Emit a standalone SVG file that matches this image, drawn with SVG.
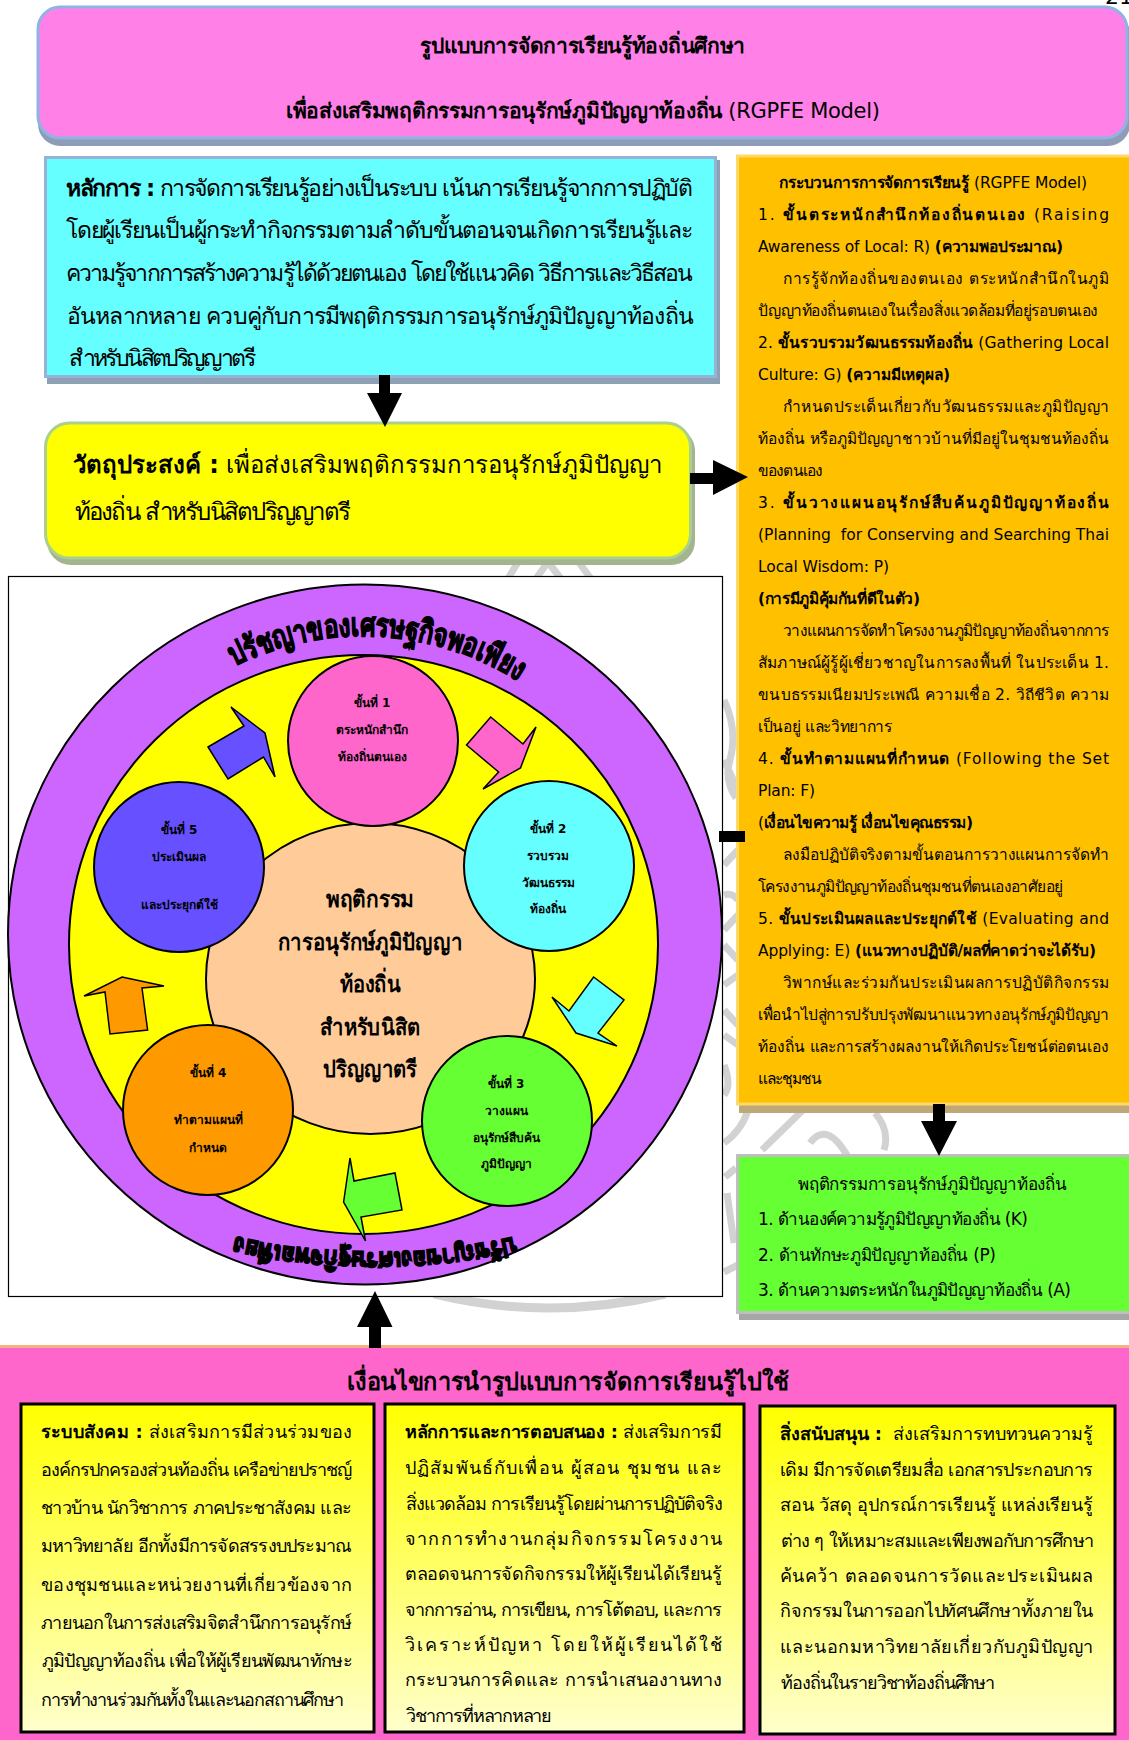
<svg xmlns="http://www.w3.org/2000/svg" width="1129" height="1740" viewBox="0 0 1129 1740">
<style>
text{font-family:"DejaVu Sans","Noto Sans","Liberation Sans",sans-serif;fill:#000}
.b{font-weight:bold}
.o{font-size:15.5px}
.c{font-size:23px}
.y{font-size:24px}
.h{font-size:21px}
.g{font-size:17px}
.p{font-size:18px}
.s{font-size:12px;font-weight:bold;text-anchor:middle}
.m{font-size:23px;font-weight:bold;text-anchor:middle}
.wm{fill:none;stroke:#d2d2d2;stroke-width:7}
.st{stroke:#000;stroke-width:2}
.ar{fill:#000;stroke:none}
.ba{stroke:#000;stroke-width:1.5}
.inner{fill:url(#yg);stroke:#000;stroke-width:3}
.curve{font-size:32px;font-weight:bold;stroke:#000;stroke-width:1.3}
.curve2{font-size:25px;font-weight:bold;stroke:#000;stroke-width:1.8}
</style>
<defs>
<linearGradient id="yg" x1="0" y1="0" x2="0" y2="1"><stop offset="0" stop-color="#ffff00"/><stop offset="1" stop-color="#ffffcc"/></linearGradient>
<path id="arcTop" d="M234 666A290 290 0 0 1 545 700"/>
<path id="arcBot" d="M515 1237A640 640 0 0 1 205 1229.500"/>
</defs>
<rect width="1129" height="1740" fill="#fff"/>
<g id="watermark" class="wm">
<path d="M522 556L507 580M548 562L535 580M548 562L562 580M574 556L592 580"/>
<path style="stroke-width:9" d="M434 1294Q548 1322 665 1294"/>
<path d="M724 700Q738 730 730 760Q724 780 736 798M724 760L738 790M724 865L738 850M724 895Q732 892 738 900M724 930L738 915M724 945L738 960M724 985L738 975M724 1010L738 1025M724 1035L738 1045M724 1065Q732 1085 724 1095M724 1143Q742 1130 748 1110M762 1150L806 1107M810 1143Q827 1120 848 1157M875 1113Q890 1130 884 1150M725 1177L736 1168M727 1193L734 1243M724 1272L738 1265"/>
</g>
<text x="1105" y="4" font-size="22" font-family="Liberation Serif">21</text>

<g id="frame"><rect x="8.500" y="576.500" width="714" height="720" fill="#fff" stroke="#000" stroke-width="1.200"/></g>

<g id="title">
<rect x="38" y="12" width="1092" height="134" rx="22" fill="#8e9cb8"/>
<rect x="38" y="7" width="1089" height="131" rx="22" fill="#ff80e6" stroke="#8db4e2" stroke-width="3"/>
<text class="h b" x="420" y="53" textLength="325">รูปแบบการจัดการเรียนรู้ท้องถิ่นศึกษา</text>
<text class="h" x="286" y="118" textLength="594"><tspan class="b">เพื่อส่งเสริมพฤติกรรมการอนุรักษ์ภูมิปัญญาท้องถิ่น</tspan> (RGPFE Model)</text>
</g>

<g id="principle">
<rect x="47" y="160" width="673" height="224" fill="#8ea0b4"/>
<rect x="45.500" y="157.500" width="670" height="219" fill="#66ffff" stroke="#95b3d7" stroke-width="3"/>
<text class="c" x="66" y="196" textLength="627"><tspan class="b">หลักการ :</tspan> การจัดการเรียนรู้อย่างเป็นระบบ เน้นการเรียนรู้จากการปฏิบัติ</text>
<text class="c" x="66" y="238" textLength="627">โดยผู้เรียนเป็นผู้กระทำกิจกรรมตามลำดับขั้นตอนจนเกิดการเรียนรู้และ</text>
<text class="c" x="66" y="281" textLength="627">ความรู้จากการสร้างความรู้ได้ด้วยตนเอง โดยใช้แนวคิด วิธีการและวิธีสอน</text>
<text class="c" x="66" y="324" textLength="627">อันหลากหลาย ควบคู่กับการมีพฤติกรรมการอนุรักษ์ภูมิปัญญาท้องถิ่น</text>
<text class="c" x="66" y="366" textLength="187">สำหรับนิสิตปริญญาตรี</text>
</g>

<g id="objective">
<rect x="47" y="427" width="648" height="138" rx="24" fill="#a3b48e"/>
<rect x="45.500" y="423" width="645" height="135" rx="24" fill="#ffff00" stroke="#a9d08e" stroke-width="3"/>
<text class="y" x="73" y="473" textLength="589"><tspan class="b">วัตถุประสงค์ :</tspan> เพื่อส่งเสริมพฤติกรรมการอนุรักษ์ภูมิปัญญา</text>
<text class="y" x="73" y="520" textLength="276">ท้องถิ่น สำหรับนิสิตปริญญาตรี</text>
</g>

<g id="process">
<rect x="739" y="160" width="392" height="953" fill="#bfa878"/>
<rect x="737.500" y="156" width="393" height="948" fill="#ffc000" stroke="#ffd966" stroke-width="3"/>
<text class="o" x="779" y="188" textLength="308"><tspan class="b">กระบวนการการจัดการเรียนรู้</tspan> (RGPFE Model)</text>
<text class="o" x="758" y="220" textLength="351">1. <tspan class="b">ขั้นตระหนักสำนึกท้องถิ่นตนเอง</tspan> (Raising</text>
<text class="o" x="758" y="252" textLength="305">Awareness of Local: R) <tspan class="b">(ความพอประมาณ)</tspan></text>
<text class="o" x="783" y="284" textLength="326">การรู้จักท้องถิ่นของตนเอง ตระหนักสำนึกในภูมิ</text>
<text class="o" x="758" y="316" textLength="340">ปัญญาท้องถิ่นตนเองในเรื่องสิ่งแวดล้อมที่อยู่รอบตนเอง</text>
<text class="o" x="758" y="348" textLength="351">2. <tspan class="b">ขั้นรวบรวมวัฒนธรรมท้องถิ่น</tspan> (Gathering Local</text>
<text class="o" x="758" y="380" textLength="192">Culture: G) <tspan class="b">(ความมีเหตุผล)</tspan></text>
<text class="o" x="783" y="412" textLength="326">กำหนดประเด็นเกี่ยวกับวัฒนธรรมและภูมิปัญญา</text>
<text class="o" x="758" y="444" textLength="351">ท้องถิ่น หรือภูมิปัญญาชาวบ้านที่มีอยู่ในชุมชนท้องถิ่น</text>
<text class="o" x="758" y="476" textLength="65">ของตนเอง</text>
<text class="o" x="758" y="508" textLength="351">3. <tspan class="b">ขั้นวางแผนอนุรักษ์สืบค้นภูมิปัญญาท้องถิ่น</tspan></text>
<text class="o" x="758" y="540" textLength="351" xml:space="preserve">(Planning  for Conserving and Searching Thai</text>
<text class="o" x="758" y="572" textLength="131">Local Wisdom: P)</text>
<text class="o" x="758" y="604" textLength="162"><tspan class="b">(การมีภูมิคุ้มกันที่ดีในตัว)</tspan></text>
<text class="o" x="783" y="636" textLength="326">วางแผนการจัดทำโครงงานภูมิปัญญาท้องถิ่นจากการ</text>
<text class="o" x="758" y="668" textLength="351">สัมภาษณ์ผู้รู้ผู้เชี่ยวชาญในการลงพื้นที่ ในประเด็น 1.</text>
<text class="o" x="758" y="700" textLength="351">ขนบธรรมเนียมประเพณี ความเชื่อ 2. วิถีชีวิต ความ</text>
<text class="o" x="758" y="732" textLength="134">เป็นอยู่ และวิทยาการ</text>
<text class="o" x="758" y="764" textLength="351">4. <tspan class="b">ขั้นทำตามแผนที่กำหนด</tspan> (Following the Set</text>
<text class="o" x="758" y="796" textLength="57">Plan: F)</text>
<text class="o" x="758" y="828" textLength="215">(<tspan class="b">เงื่อนไขความรู้ เงื่อนไขคุณธรรม)</tspan></text>
<text class="o" x="783" y="860" textLength="326">ลงมือปฏิบัติจริงตามขั้นตอนการวางแผนการจัดทำ</text>
<text class="o" x="758" y="892" textLength="305">โครงงานภูมิปัญญาท้องถิ่นชุมชนที่ตนเองอาศัยอยู่</text>
<text class="o" x="758" y="924" textLength="351">5. <tspan class="b">ขั้นประเมินผลและประยุกต์ใช้</tspan> (Evaluating and</text>
<text class="o" x="758" y="956" textLength="338">Applying: E) <tspan class="b">(แนวทางปฏิบัติ/ผลที่คาดว่าจะได้รับ)</tspan></text>
<text class="o" x="783" y="988" textLength="326">วิพากษ์และร่วมกันประเมินผลการปฏิบัติกิจกรรม</text>
<text class="o" x="758" y="1020" textLength="351">เพื่อนำไปสู่การปรับปรุงพัฒนาแนวทางอนุรักษ์ภูมิปัญญา</text>
<text class="o" x="758" y="1052" textLength="351">ท้องถิ่น และการสร้างผลงานให้เกิดประโยชน์ต่อตนเอง</text>
<text class="o" x="758" y="1084" textLength="64">และชุมชน</text>
</g>

<g id="behavior">
<rect x="739" y="1160" width="392" height="160" fill="#a6a6a6"/>
<rect x="737.500" y="1155.500" width="393" height="157" fill="#66ff33" stroke="#bfbfbf" stroke-width="3"/>
<text class="g" x="798" y="1190" textLength="269">พฤติกรรมการอนุรักษ์ภูมิปัญญาท้องถิ่น</text>
<text class="g" x="758" y="1225" textLength="270">1. ด้านองค์ความรู้ภูมิปัญญาท้องถิ่น (K)</text>
<text class="g" x="758" y="1261" textLength="238">2. ด้านทักษะภูมิปัญญาท้องถิ่น (P)</text>
<text class="g" x="758" y="1296" textLength="313">3. ด้านความตระหนักในภูมิปัญญาท้องถิ่น (A)</text>
</g>

<g id="philosophy">
<ellipse cx="365" cy="934.500" rx="357" ry="350" fill="#cc66ff" class="st"/>
<text class="curve"><textPath href="#arcTop" textLength="298" lengthAdjust="spacingAndGlyphs">ปรัชญาของเศรษฐกิจพอเพียง</textPath></text>
<text class="curve2"><textPath href="#arcBot" textLength="282" lengthAdjust="spacingAndGlyphs">ปรัชญาของเศรษฐกิจพอเพียง</textPath></text>
</g>
<g id="ring"><ellipse cx="363.500" cy="944.500" rx="294.500" ry="289.500" fill="#ffff00" class="st"/></g>
<g id="center">
<ellipse cx="370.500" cy="978.500" rx="164.500" ry="155.500" fill="#ffcc99" class="st"/>
<text class="m" x="370" y="907" textLength="88" lengthAdjust="spacingAndGlyphs">พฤติกรรม</text>
<text class="m" x="370" y="950" textLength="184" lengthAdjust="spacingAndGlyphs">การอนุรักษ์ภูมิปัญญา</text>
<text class="m" x="370" y="992" textLength="61" lengthAdjust="spacingAndGlyphs">ท้องถิ่น</text>
<text class="m" x="370" y="1035" textLength="100" lengthAdjust="spacingAndGlyphs">สำหรับนิสิต</text>
<text class="m" x="370" y="1077" textLength="94" lengthAdjust="spacingAndGlyphs">ปริญญาตรี</text>
</g>
<g id="step1">
<circle cx="373" cy="741" r="85" fill="#ff66cc" class="st"/>
<text class="s" x="372" y="707">ขั้นที่ 1</text><text class="s" x="372" y="734">ตระหนักสำนึก</text><text class="s" x="372" y="761">ท้องถิ่นตนเอง</text>
</g>
<g id="step2">
<circle cx="549" cy="866" r="85" fill="#66ffff" class="st"/>
<text class="s" x="548" y="833">ขั้นที่ 2</text><text class="s" x="548" y="860">รวบรวม</text><text class="s" x="548" y="887">วัฒนธรรม</text><text class="s" x="548" y="913">ท้องถิ่น</text>
</g>
<g id="step3">
<circle cx="507" cy="1121" r="85" fill="#66ff33" class="st"/>
<text class="s" x="506" y="1088">ขั้นที่ 3</text><text class="s" x="506" y="1115">วางแผน</text><text class="s" x="506" y="1142">อนุรักษ์สืบค้น</text><text class="s" x="506" y="1168">ภูมิปัญญา</text>
</g>
<g id="step4">
<circle cx="208" cy="1110" r="85" fill="#ff9900" class="st"/>
<text class="s" x="208" y="1077">ขั้นที่ 4</text><text class="s" x="208" y="1124">ทำตามแผนที่</text><text class="s" x="208" y="1152">กำหนด</text>
</g>
<g id="step5">
<circle cx="179" cy="867" r="85" fill="#6650ff" class="st"/>
<text class="s" x="179" y="834">ขั้นที่ 5</text><text class="s" x="179" y="861">ประเมินผล</text><text class="s" x="179" y="909">และประยุกต์ใช้</text>
</g>

<g id="conditions">
<rect x="0" y="1346.500" width="1129" height="393.500" fill="#ff66cc"/>
<rect x="0" y="1345" width="1129" height="3" fill="#f4b183"/>
<text class="b" x="347" y="1390" font-size="24" textLength="442" lengthAdjust="spacingAndGlyphs">เงื่อนไขการนำรูปแบบการจัดการเรียนรู้ไปใช้</text>
</g>
<g id="social">
<rect class="inner" x="21" y="1404" width="353" height="328"/>
<text class="p" x="41" y="1438" textLength="311"><tspan class="b">ระบบสังคม :</tspan> ส่งเสริมการมีส่วนร่วมของ</text>
<text class="p" x="41" y="1476" textLength="311">องค์กรปกครองส่วนท้องถิ่น เครือข่ายปราชญ์</text>
<text class="p" x="41" y="1514" textLength="311">ชาวบ้าน นักวิชาการ ภาคประชาสังคม และ</text>
<text class="p" x="41" y="1552" textLength="311">มหาวิทยาลัย อีกทั้งมีการจัดสรรงบประมาณ</text>
<text class="p" x="41" y="1591" textLength="311">ของชุมชนและหน่วยงานที่เกี่ยวข้องจาก</text>
<text class="p" x="41" y="1629" textLength="311">ภายนอกในการส่งเสริมจิตสำนึกการอนุรักษ์</text>
<text class="p" x="41" y="1667" textLength="311">ภูมิปัญญาท้องถิ่น เพื่อให้ผู้เรียนพัฒนาทักษะ</text>
<text class="p" x="41" y="1706" textLength="303">การทำงานร่วมกันทั้งในและนอกสถานศึกษา</text>
</g>
<g id="response">
<rect class="inner" x="385" y="1404" width="359" height="328"/>
<text class="p" x="405" y="1438" textLength="317"><tspan class="b">หลักการและการตอบสนอง :</tspan> ส่งเสริมการมี</text>
<text class="p" x="405" y="1474" textLength="317">ปฏิสัมพันธ์กับเพื่อน ผู้สอน ชุมชน และ</text>
<text class="p" x="405" y="1510" textLength="317">สิ่งแวดล้อม การเรียนรู้โดยผ่านการปฏิบัติจริง</text>
<text class="p" x="405" y="1545" textLength="317">จากการทำงานกลุ่มกิจกรรมโครงงาน</text>
<text class="p" x="405" y="1580" textLength="317">ตลอดจนการจัดกิจกรรมให้ผู้เรียนได้เรียนรู้</text>
<text class="p" x="405" y="1616" textLength="317">จากการอ่าน, การเขียน, การโต้ตอบ, และการ</text>
<text class="p" x="405" y="1651" textLength="317">วิเคราะห์ปัญหา โดยให้ผู้เรียนได้ใช้</text>
<text class="p" x="405" y="1686" textLength="317">กระบวนการคิดและ การนำเสนองานทาง</text>
<text class="p" x="405" y="1722" textLength="146">วิชาการที่หลากหลาย</text>
</g>
<g id="support">
<rect class="inner" x="760" y="1406" width="355" height="328"/>
<text class="p" x="780" y="1440" textLength="313" xml:space="preserve"><tspan class="b">สิ่งสนับสนุน :</tspan>  ส่งเสริมการทบทวนความรู้</text>
<text class="p" x="780" y="1476" textLength="313">เดิม มีการจัดเตรียมสื่อ เอกสารประกอบการ</text>
<text class="p" x="780" y="1511" textLength="313">สอน วัสดุ อุปกรณ์การเรียนรู้ แหล่งเรียนรู้</text>
<text class="p" x="780" y="1547" textLength="313">ต่าง ๆ ให้เหมาะสมและเพียงพอกับการศึกษา</text>
<text class="p" x="780" y="1582" textLength="313">ค้นคว้า ตลอดจนการวัดและประเมินผล</text>
<text class="p" x="780" y="1617" textLength="313">กิจกรรมในการออกไปทัศนศึกษาทั้งภายใน</text>
<text class="p" x="780" y="1653" textLength="313">และนอกมหาวิทยาลัยเกี่ยวกับภูมิปัญญา</text>
<text class="p" x="780" y="1689" textLength="214">ท้องถิ่นในรายวิชาท้องถิ่นศึกษา</text>
</g>

<g id="connectors">
<polygon class="ar" points="379,375 390,375 390,393 402,393 385,427 367,393 379,393"/>
<polygon class="ar" points="690,473 713,473 713,460 748,477 713,495 713,484 690,484"/>
<polygon class="ar" points="933,1104 945,1104 945,1121 957,1121 939,1156 921,1121 933,1121"/>
<polygon class="ar" points="369,1348 381,1348 381,1327 392.500,1327 375,1291 357,1327 369,1327"/>
<rect class="ar" x="719" y="831" width="26" height="11"/>
<polygon class="ba" fill="#6650ff" points="208,747 244,726 231,707 265,733 275,777 263.500,757 228,779"/>
<polygon class="ba" fill="#ff66cc" points="466.500,745 490.700,717 523,744 536,727 520.500,768 483,789 498.600,772"/>
<polygon class="ba" fill="#66ffff" points="593.600,977 624,1000 598,1033 617,1046 576,1033 552,997 569,1011"/>
<polygon class="ba" fill="#66ff33" points="350,1158 354,1181 395,1173 402,1210 361,1217 365.500,1241 343.600,1202"/>
<polygon class="ba" fill="#ff9900" points="122,977 164,986 142,988 147.600,1030 110,1034 105,992 84,996"/>
</g>
</svg>
